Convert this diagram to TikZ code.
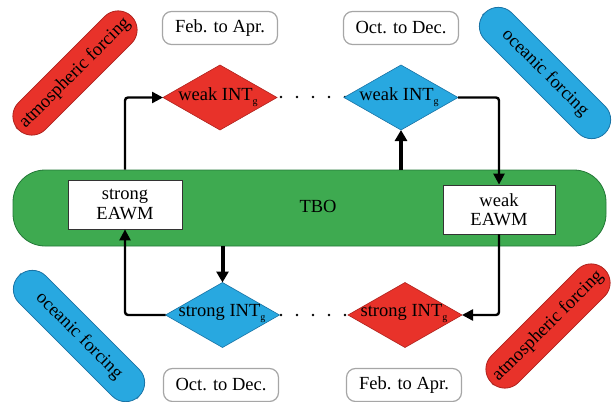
\documentclass[tikz,border=0pt]{standalone}
\usepackage{fontspec}
\setmainfont{Liberation Serif}
\usetikzlibrary{shapes.geometric,arrows.meta}
\definecolor{myred}{RGB}{232,50,42}
\definecolor{myredd}{RGB}{175,35,30}
\definecolor{myblue}{RGB}{40,168,224}
\definecolor{mybluee}{RGB}{25,115,165}
\definecolor{mygreen}{RGB}{62,170,80}
\definecolor{mygreend}{RGB}{35,120,55}
\newcommand{\sub}{\raisebox{-4pt}{\fontsize{10}{10}\selectfont g}}
\tikzset{
  txt/.style={font=\fontsize{18.5}{20}\selectfont, inner sep=0pt, align=center},
  dia/.style={diamond, minimum width=114pt, minimum height=65pt, inner sep=0pt, outer sep=0pt},
  reddia/.style={dia, fill=myred, draw=myredd, line width=0.6pt},
  bluedia/.style={dia, fill=myblue, draw=mybluee, line width=0.6pt},
  pill/.style={txt, minimum width=#1, minimum height=38pt, rounded corners=19pt, line width=0.8pt},
  redpill/.style={pill=160pt, fill=myred, draw=myredd},
  bluepill/.style={pill=170pt, fill=myblue, draw=mybluee},
  period/.style={txt, draw=gray!70, line width=1.2pt, fill=white, rounded corners=9pt, minimum width=115pt, minimum height=33pt},
  eawm/.style={txt, draw=black!80, line width=0.8pt, fill=white, minimum height=49pt, font=\fontsize{18.5}{19.5}\selectfont},
  arr/.style={line width=2.4pt, -{Triangle[length=11pt,width=11pt]}, rounded corners=3pt},
  thickarr/.style={line width=4pt, -{Triangle[length=11pt,width=12pt]}},
  dots/.style={line width=2.8pt, line cap=round, dash pattern=on 0pt off 16pt}
}
\begin{document}
\begin{tikzpicture}[x=1pt,y=-1pt]
\useasboundingbox (0,0) rectangle (612,401);
% forcing pills
\node[redpill, rotate=45] (af1) at (75,73) {atmospheric forcing};
\node[bluepill, rotate=-45] (of1) at (545,73) {oceanic forcing};
\node[bluepill, rotate=-45] (of2) at (79,336) {oceanic forcing};
\node[redpill, rotate=45] (af2) at (548,326) {atmospheric forcing};
% period labels
\node[period] (p1) at (220,28) {Feb. to Apr.};
\node[period] (p2) at (401,28) {Oct. to Dec.};
\node[period] (p3) at (221,385) {Oct. to Dec.};
\node[period] (p4) at (404,385) {Feb. to Apr.};
% green band
\node[fill=mygreen, draw=mygreend, line width=0.8pt, rounded corners=32pt, minimum width=593pt, minimum height=76pt, inner sep=0pt] (band) at (309.5,208) {};
\node[txt] (tbo) at (318,206) {TBO};
\node[eawm, minimum width=114pt] (s) at (125,204.5) {strong\\EAWM};
\node[eawm, minimum width=112pt] (we) at (499,209.5) {weak\\EAWM};
% dotted links (behind diamonds)
\coordinate (d1a) at (281,97);
\coordinate (d1b) at (346,97);
\coordinate (d2a) at (281,315);
\coordinate (d2b) at (346,315);
\draw[dots] (d1a) -- (d1b);
\draw[dots] (d2a) -- (d2b);
% diamonds
\node[reddia] (r1) at (220,97.5) {};
\node[txt] at (218,97) {weak INT\sub};
\node[bluedia] (b1) at (401,97.5) {};
\node[txt] at (399,97) {weak INT\sub};
\node[bluedia] (b2) at (222.5,315) {};
\node[txt] at (222,314) {strong INT\sub};
\node[reddia] (r2) at (405,315) {};
\node[txt] at (404,314) {strong INT\sub};
% connectors
\draw[arr] (s.north |- band.north) |- (r1.west);
\draw[thickarr] (b1.south |- band.north) -- (b1.south);
\draw[arr] (b1.east) -| (we.north);
\draw[arr] (we.south) |- (r2.east);
\draw[thickarr] (b2.north |- band.south) -- (b2.north);
\draw[arr] (b2.west) -| (s.south);
\end{tikzpicture}
\end{document}
